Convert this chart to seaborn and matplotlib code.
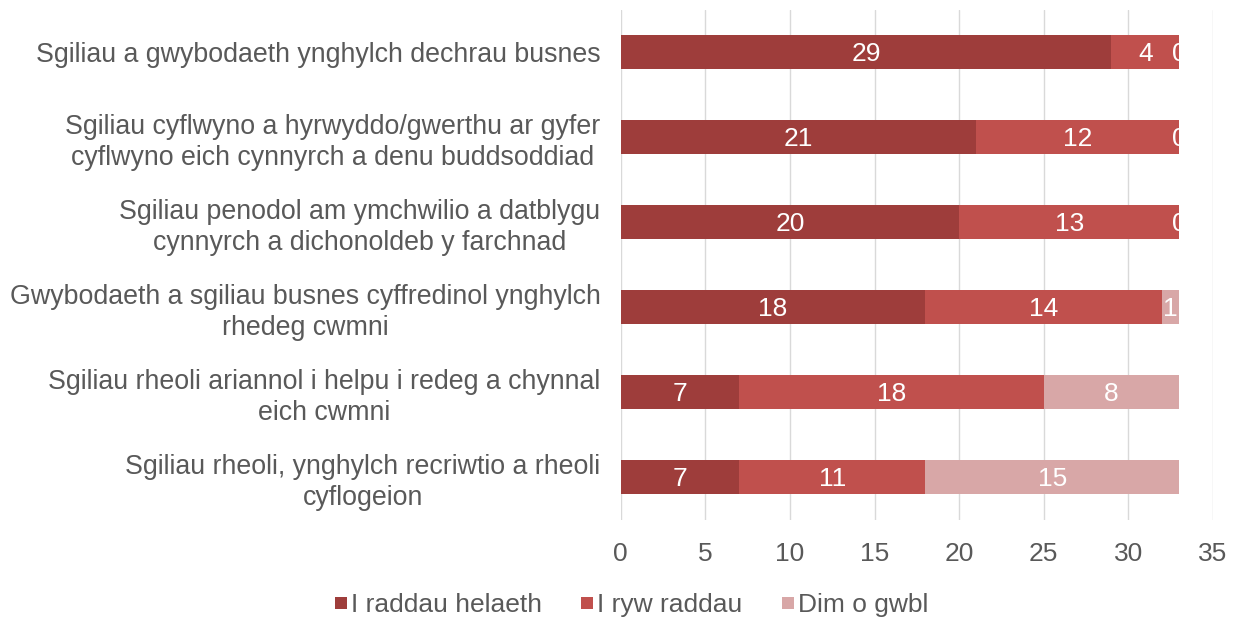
import pandas as pd
import numpy as np
import matplotlib
matplotlib.use("Agg")
import matplotlib.pyplot as plt
import matplotlib.patches as mpatches
from matplotlib.lines import Line2D
import seaborn as sns

# Data
categories = [
    "Sgiliau a gwybodaeth ynghylch dechrau busnes",
    "Sgiliau cyflwyno a hyrwyddo/gwerthu ar gyfer\ncyflwyno eich cynnyrch a denu buddsoddiad",
    "Sgiliau penodol am ymchwilio a datblygu\ncynnyrch a dichonoldeb y farchnad",
    "Gwybodaeth a sgiliau busnes cyffredinol ynghylch\nrhedeg cwmni",
    "Sgiliau rheoli ariannol i helpu i redeg a chynnal\neich cwmni",
    "Sgiliau rheoli, ynghylch recriwtio a rheoli\ncyflogeion",
]
series_names = ["I raddau helaeth", "I ryw raddau", "Dim o gwbl"]
helaeth = [29, 21, 20, 18, 7, 7]
ryw = [4, 12, 13, 14, 18, 11]
dim = [0, 0, 0, 1, 8, 15]
colors = ["#9E3D3B", "#C0504D", "#D8A7A7"]

df = pd.DataFrame({"cat": categories, "a": helaeth, "b": ryw, "c": dim})
df["ab"] = df["a"] + df["b"]
df["abc"] = df["ab"] + df["c"]

sns.set_style("white")
plt.rcParams["font.family"] = ["Liberation Sans", "DejaVu Sans"]
text_col = "#595959"

fig = plt.figure(figsize=(12.39, 6.21), dpi=100)
ax = fig.add_axes([0.501, 0.163, 0.478, 0.821])

# stacked bars: draw cumulative totals from largest to smallest
for col, c in zip(["abc", "ab", "a"], colors[::-1]):
    sns.barplot(data=df, y="cat", x=col, color=c, orient="h", width=0.4,
                saturation=1, linewidth=0, ax=ax, zorder=3)

ax.set_xlim(0, 35)
ax.set_ylim(5.5, -0.5)
ax.set_xticks(range(0, 36, 5))
ax.grid(axis="x", color="#D9D9D9", linewidth=1, zorder=0)
ax.set_axisbelow(True)
for s in ax.spines.values():
    s.set_visible(False)
ax.set_xlabel("")
ax.set_ylabel("")
ax.tick_params(axis="x", colors=text_col, labelsize=19, pad=16, length=0)
ax.tick_params(axis="y", colors=text_col, labelsize=19.3, pad=14.5, length=0)
for lbl in ax.get_yticklabels():
    lbl.set_horizontalalignment("right")
    lbl.set_multialignment("center")
    lbl.set_linespacing(1.25)

# value labels at segment centres, clipped at the bar end
for i, row in df.iterrows():
    starts = [0, row["a"], row["ab"]]
    vals = [row["a"], row["b"], row["c"]]
    clip = mpatches.Rectangle((0, i - 0.2), row["abc"], 0.4, transform=ax.transData,
                              visible=False)
    ax.add_patch(clip)
    for s, v in zip(starts, vals):
        t = ax.text(s + v / 2, i + 0.02, str(v), ha="center", va="center",
                    color="white", fontsize=19, zorder=5)
        t.set_clip_path(clip)

handles = [Line2D([], [], marker="s", linestyle="none", markersize=8,
                  markerfacecolor=c, markeredgewidth=0, label=n)
           for c, n in zip(colors, series_names)]
leg = fig.legend(handles=handles, loc="center", bbox_to_anchor=(0.51, 0.025),
                 ncol=3, frameon=False, fontsize=19, handlelength=0.4,
                 handletextpad=0.2, columnspacing=1.5)
for t in leg.get_texts():
    t.set_color(text_col)

fig.savefig("out.png", dpi=100)
